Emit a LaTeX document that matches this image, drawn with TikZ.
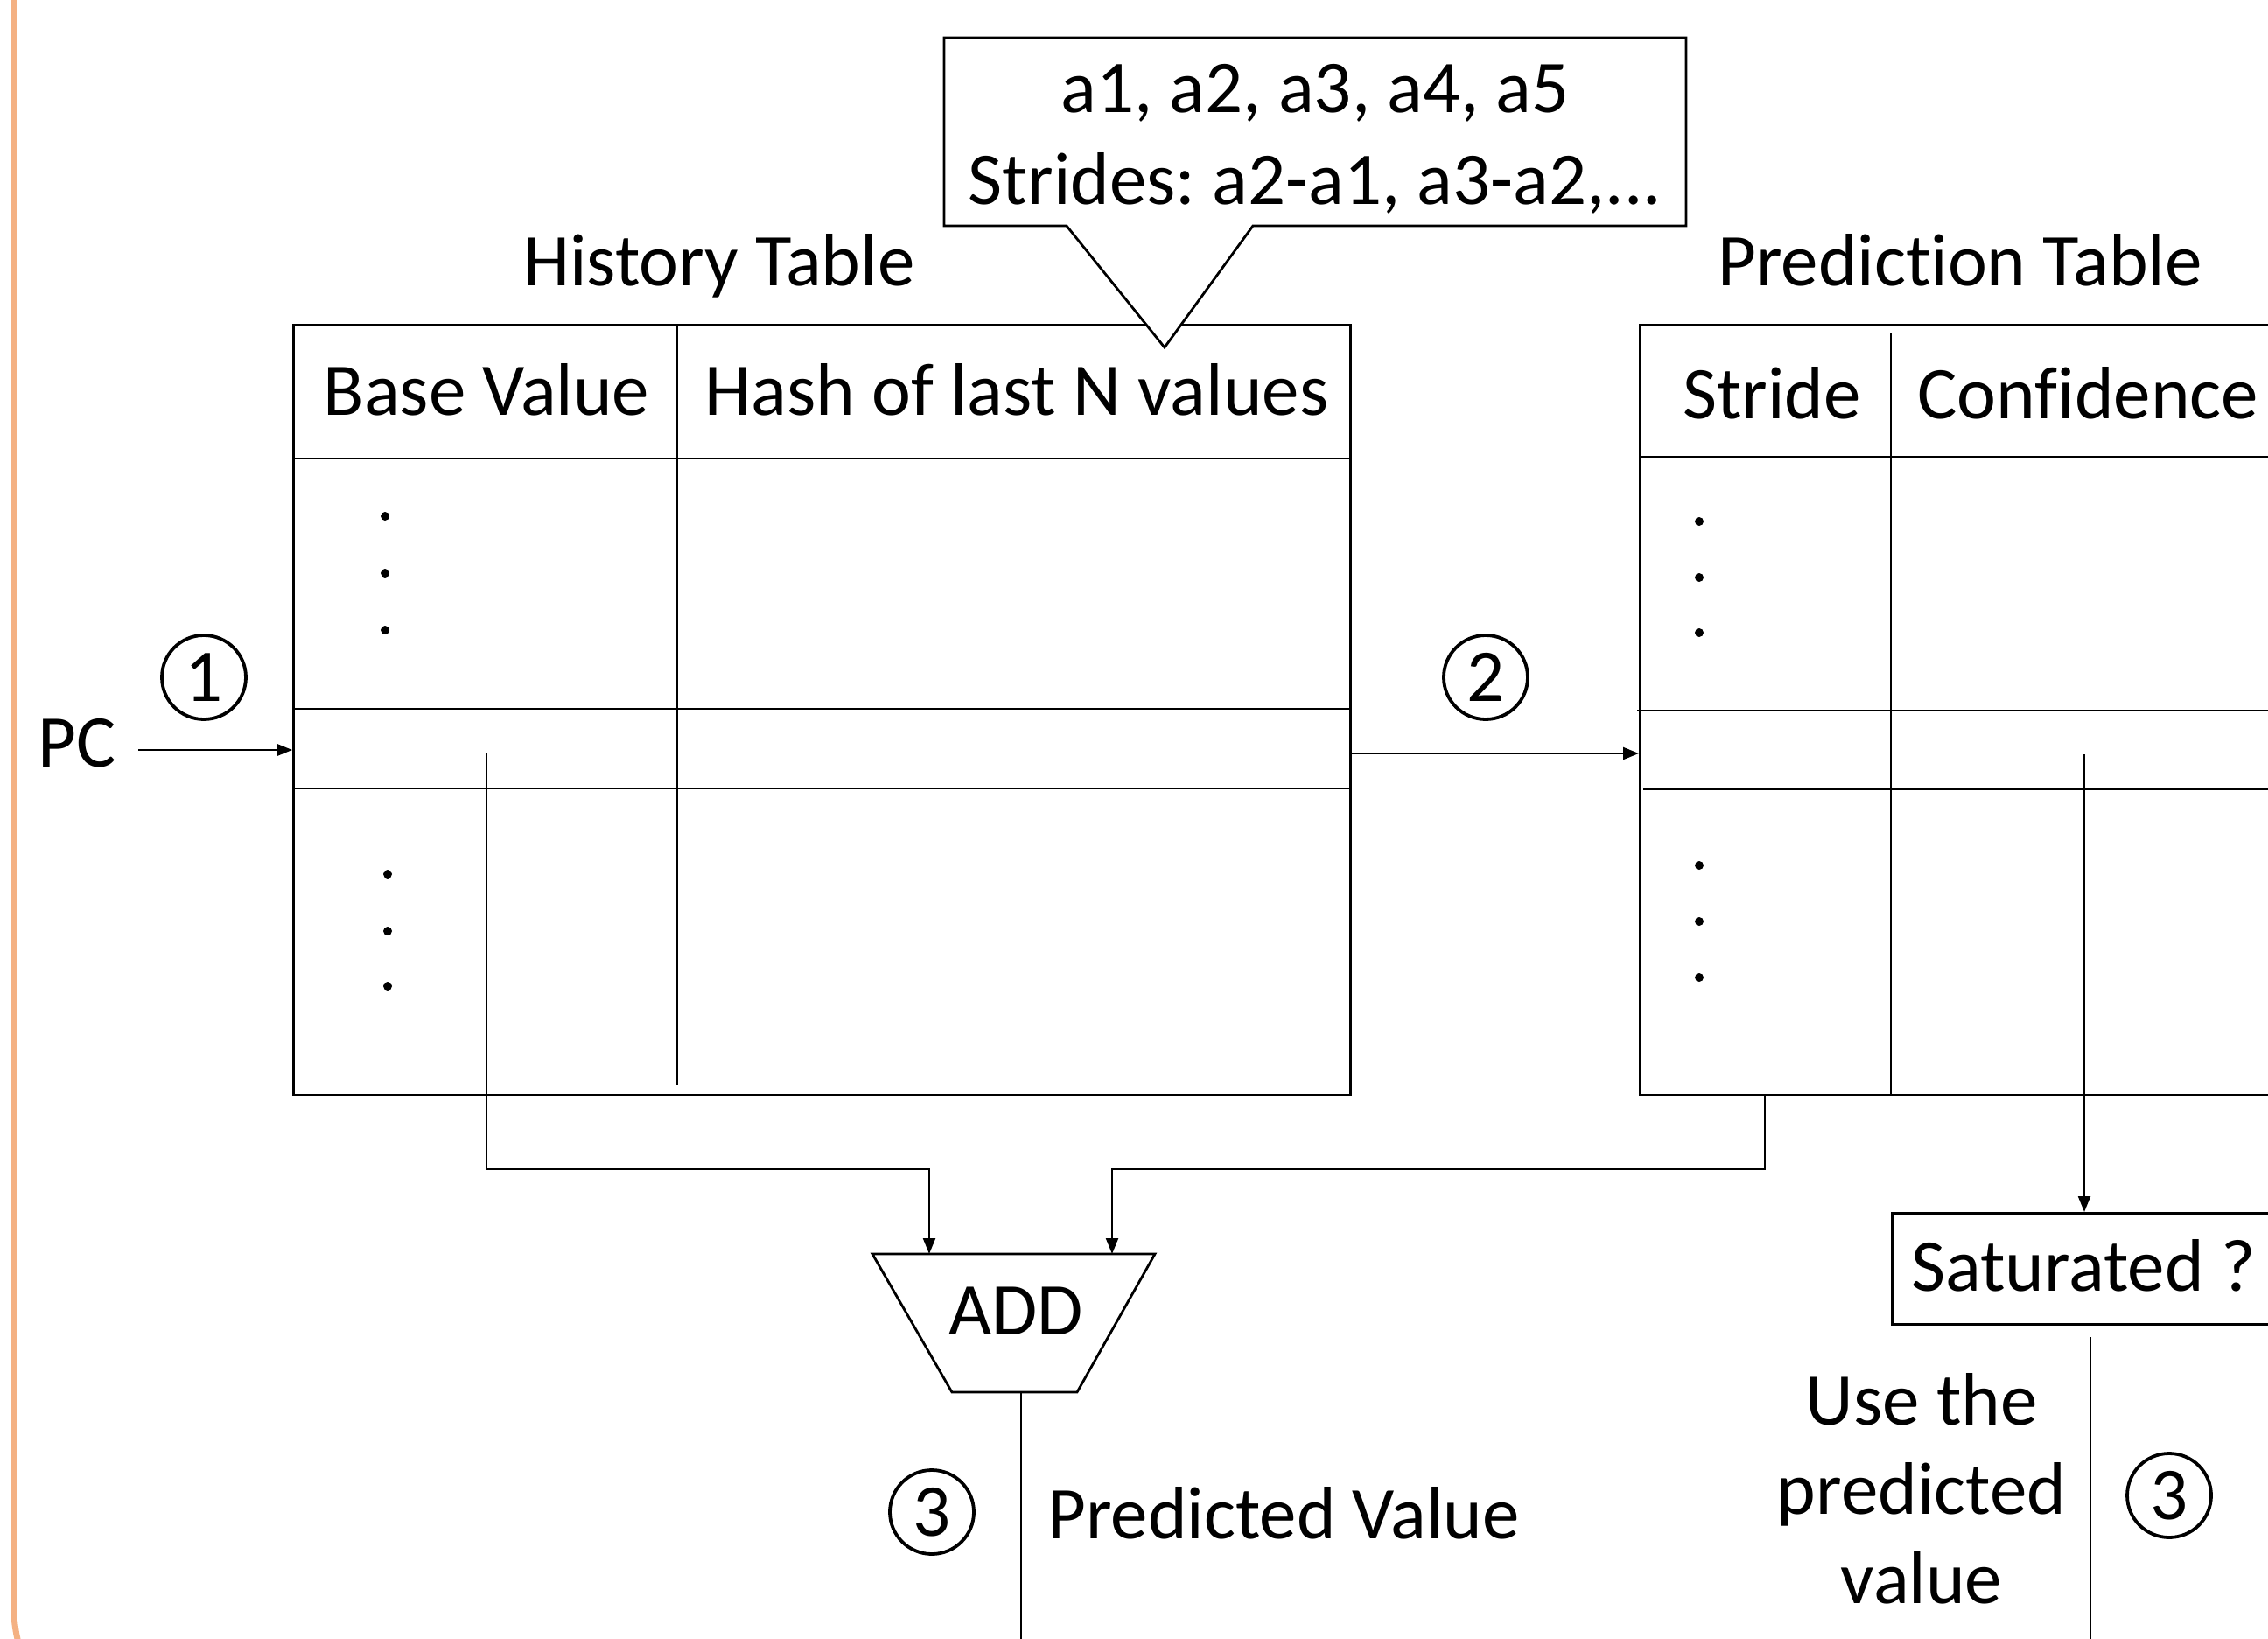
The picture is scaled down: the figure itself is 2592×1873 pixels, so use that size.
\documentclass[tikz,border=0pt]{standalone}
\usepackage{fontspec}
\setmainfont{Carlito}[Ligatures=NoCommon]
\usetikzlibrary{arrows.meta,calc}
\definecolor{slideorange}{RGB}{244,177,131}
\frenchspacing
\begin{document}
\begin{tikzpicture}[x=0.5pt,y=-0.5pt,
  every node/.style={font=\fontsize{42.5pt}{51pt}\selectfont, inner sep=0pt},
  tblborder/.style={line width=1.4pt},
  tblline/.style={line width=0.85pt},
  wire/.style={line width=1.1pt},
  arr/.style={wire,-{Triangle[length=9pt,width=7pt]}},
  stepnum/.style={circle, draw, line width=1.9pt, minimum size=48pt, inner sep=0pt},
  lbl/.style={anchor=base},
  tablebox/.style={draw, tblborder, anchor=north west, inner sep=0pt},
]
\useasboundingbox (0,0) rectangle (2592,1873);
\clip (0,0) rectangle (2592,1873);

% slide frame
\draw[slideorange, line width=3.5pt, rounded corners=90pt] (15.5,-400) rectangle (3200,2013);

% ---------- History table ----------
\node[tablebox, minimum width=604pt, minimum height=440pt] (hist) at (334,370) {};
\draw[tblline] (334,524) -- (1542,524);
\draw[tblline] (334,810) -- (1542,810);
\draw[tblline] (334,901) -- (1542,901);
\draw[tblline] (774,370) -- (774,1240);
\foreach \y in {590,655,720} \fill (440,\y) circle[radius=2.5pt];
\foreach \y in {999,1064,1127} \fill (443,\y) circle[radius=2.5pt];

\node[lbl] (histtitle) at (822,326) {History Table};
\node[lbl] (basev) at (556,474) {Base Value};
\node[lbl] (hashh) at (1162,474) {Hash of last N values};

% ---------- Prediction table ----------
\node[tablebox, minimum width=413.5pt, minimum height=440pt] (pred) at (1873,370) {};
\draw[tblline] (1873,522) -- (2700,522);
\draw[tblline] (1871,812) -- (2700,812);
\draw[tblline] (1878,902) -- (2700,902);
\draw[tblline] (2161,380) -- (2161,1250);
\foreach \y in {596,660,723} \fill (1942,\y) circle[radius=2.5pt];
\foreach \y in {989,1053,1117} \fill (1942,\y) circle[radius=2.5pt];

\node[lbl] (predtitle) at (2240,326) {Prediction Table};
\node[lbl] (stride) at (2025,478) {Stride};
\node[lbl, anchor=base west] (conf) at (2191,478) {Confidence};

% ---------- Callout ----------
\draw[tblborder, fill=white] (1079,43) -- (1927,43) -- (1927,258) -- (1432,258)
  -- (1331,397) -- (1219,258) -- (1079,258) -- cycle;
\node[lbl] (vals) at (1503,129) {a1, a2, a3, a4, a5};
\node[lbl] (strides) at (1503,233) {Strides: a2-a1, a3-a2,...};

% ---------- PC input ----------
\node[lbl, anchor=base west] (pc) at (43,876) {PC};
\coordinate (pcend) at (158,857);
\draw[arr] (pcend) -- (hist.west |- pcend);
\node[stepnum] (s1) at (233,774) {1};

% ---------- History -> Prediction ----------
\draw[arr] (hist.east |- 0,861) -- (pred.west |- 0,861);
\node[stepnum] (s2) at (1698,774) {2};

% ---------- ADD ----------
\draw[tblborder] (997,1433) -- (1320,1433) -- (1231,1591) -- (1088,1591) -- cycle;
\node (add) at (1161,1498) {ADD};
\coordinate (addinL) at (1062,1433);
\coordinate (addinR) at (1271,1433);
\coordinate (bvtap) at (556,861);
\coordinate (strtap) at (2017,1250);
\draw[arr] (bvtap) |- (addinL |- 0,1336) -- (addinL);
\draw[arr] (strtap) |- (addinR |- 0,1336) -- (addinR);

\coordinate (addout) at (1167,1591);
\coordinate (predend) at (1167,1900);
\draw[wire] (addout) -- (predend);
\node[stepnum] (s3a) at (1065,1728) {3};
\node[lbl, anchor=base west] (pv) at (1197,1758) {Predicted Value};

% ---------- Saturated ----------
\node[tablebox, minimum width=269.5pt, minimum height=63.5pt] (sat) at (2161,1385) {};
\node[lbl, anchor=base west] (sattext) at (2184,1475) {Saturated ?};
\coordinate (conftap) at (2382,862);
\draw[arr] (conftap) -- (conftap |- sat.north);

\coordinate (satout) at (2389,1528);
\coordinate (satend) at (2389,1900);
\draw[wire] (satout) -- (satend);
\node[lbl] (use1) at (2196,1628) {Use the};
\node[lbl] (use2) at (2196,1730) {predicted};
\node[lbl] (use3) at (2196,1832) {value};
\node[stepnum] (s3b) at (2479,1709) {3};
\end{tikzpicture}
\end{document}
